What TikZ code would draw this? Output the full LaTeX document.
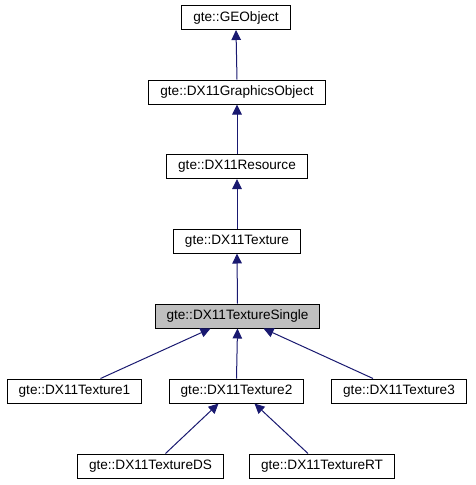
\documentclass[tikz,border=0pt]{standalone}
\usepackage{fontspec}
\setmainfont{Liberation Sans}
\usetikzlibrary{arrows.meta}

\definecolor{edgeblue}{HTML}{191970}
\definecolor{boxgrey}{HTML}{BFBFBF}

\tikzset{
  classbox/.style={rectangle, draw=black, line width=1pt, fill=white, minimum height=24pt, inner xsep=11.5pt, inner ysep=0pt, font=\fontsize{13.6}{16}\selectfont},
  inherit/.style={draw=edgeblue, line width=1pt, {Triangle[length=10pt, width=9.5pt, fill=edgeblue]}-}
}

\begin{document}
\begin{tikzpicture}[x=1pt, y=-1pt]
  \useasboundingbox (0,0) rectangle (475,485);

  % --- Classes ---

  % Base chain
  \node[classbox] (geobj) at (236,17.5) {gte::GEObject};
  \node[classbox] (gfxobj) at (237,92) {gte::DX11GraphicsObject};
  \node[classbox] (res) at (237,166.5) {gte::DX11Resource};
  \node[classbox] (tex) at (237,241) {gte::DX11Texture};
  \node[classbox, fill=boxgrey] (single) at (237.5,316) {gte::DX11TextureSingle};

  % Derived textures
  \node[classbox] (tex1) at (74.5,391) {gte::DX11Texture1};
  \node[classbox] (tex2) at (236.5,391) {gte::DX11Texture2};
  \node[classbox] (tex3) at (399,391) {gte::DX11Texture3};

  % Render targets
  \node[classbox] (texds) at (150.5,466) {gte::DX11TextureDS};
  \node[classbox] (texrt) at (322,466) {gte::DX11TextureRT};

  % --- Inheritance ---
  \draw[inherit] (geobj.south) -- (gfxobj.north);
  \draw[inherit] (gfxobj.south) -- (res.north);
  \draw[inherit] (res.south) -- (tex.north);
  \draw[inherit] (tex.south) -- (single.north);

  \draw[inherit] ([xshift=-27pt]single.south) -- ([xshift=26pt]tex1.north);
  \draw[inherit] (single.south) -- (tex2.north);
  \draw[inherit] ([xshift=26pt]single.south) -- ([xshift=-26pt]tex3.north);

  \draw[inherit] ([xshift=-18pt]tex2.south) -- ([xshift=15pt]texds.north);
  \draw[inherit] ([xshift=18pt]tex2.south) -- ([xshift=-14pt]texrt.north);

\end{tikzpicture}
\end{document}
